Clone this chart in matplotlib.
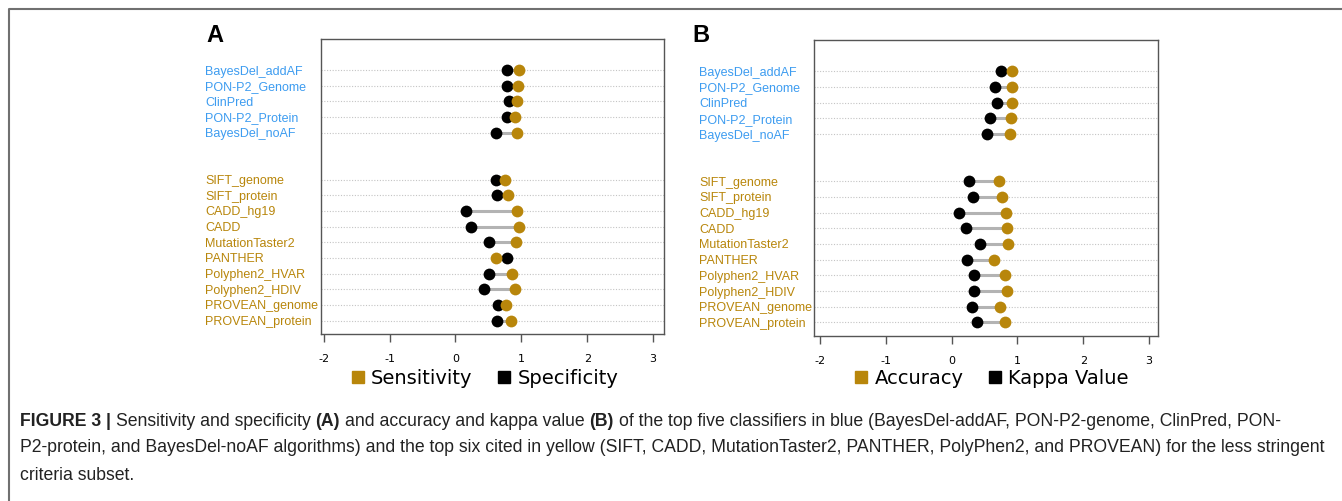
import numpy as np
import matplotlib.pyplot as plt
from matplotlib.lines import Line2D
from matplotlib.transforms import blended_transform_factory

GOLD = "#b8860b"
BLUE = "#3d9cf0"

top_tools = ["BayesDel_addAF", "PON-P2_Genome", "ClinPred", "PON-P2_Protein", "BayesDel_noAF"]
cited_tools = ["SIFT_genome", "SIFT_protein", "CADD_hg19", "CADD", "MutationTaster2", "PANTHER",
               "Polyphen2_HVAR", "Polyphen2_HDIV", "PROVEAN_genome", "PROVEAN_protein"]

# panel A
sensitivity = [0.965, 0.95, 0.94, 0.91, 0.94,
               0.75, 0.80, 0.94, 0.96, 0.925, 0.62, 0.86, 0.905, 0.765, 0.84]
specificity = [0.775, 0.775, 0.815, 0.775, 0.62,
               0.62, 0.625, 0.16, 0.235, 0.51, 0.78, 0.51, 0.43, 0.65, 0.625]
# panel B
accuracy = [0.925, 0.915, 0.91, 0.895, 0.885,
            0.725, 0.765, 0.82, 0.835, 0.86, 0.64, 0.805, 0.835, 0.74, 0.81]
kappa = [0.75, 0.665, 0.685, 0.585, 0.54,
         0.26, 0.325, 0.115, 0.22, 0.435, 0.23, 0.335, 0.34, 0.31, 0.385]

xticks = [-2, -1, 0, 1, 2, 3]

labels = top_tools + cited_tools
colors = [BLUE] * len(top_tools) + [GOLD] * len(cited_tools)
# two empty rows between the groups
rows = list(range(len(top_tools))) + list(range(len(top_tools) + 2, len(top_tools) + 2 + len(cited_tools)))

W, H = 1342, 502
fig = plt.figure(figsize=(W / 100, H / 100), dpi=100)


def px(x, y):
    return x / W, 1 - y / H


def panel(rect, xlim, letter, letter_x, label_x, a, b, name_a, name_b, leg_x):
    ax = fig.add_axes(rect)
    for r in rows:
        ax.axhline(r, color="#c4c4c4", lw=0.8, ls=(0, (1, 1.5)), zorder=1)
    for r, va, vb in zip(rows, a, b):
        ax.plot([va, vb], [r, r], color="#b3b3b3", lw=2.2, zorder=2, solid_capstyle="butt")
    ax.scatter(b, rows, s=72, color="black", zorder=3, linewidths=0)
    ax.scatter(a, rows, s=72, color=GOLD, zorder=4, linewidths=0)
    ax.set_xlim(*xlim)
    ax.set_ylim(16.86, -1.98)
    ax.set_yticks([])
    ax.set_xticks(xticks)
    ax.set_xticklabels([str(t) for t in xticks], fontsize=8)
    ax.tick_params(axis="x", length=6, width=1, color="#555555", pad=8)
    for sp in ax.spines.values():
        sp.set_color("#555555")
        sp.set_linewidth(1)
    tr = blended_transform_factory(fig.transFigure, ax.transData)
    for r, lab, c in zip(rows, labels, colors):
        ax.text(label_x / W, r - 0.06, lab, transform=tr, ha="left", va="center_baseline",
                fontsize=9, color=c, family="Liberation Sans")
    fig.text(*px(letter_x, 36), letter, fontsize=17, fontweight="bold",
             family="Liberation Sans", ha="left", va="center")
    handles = [Line2D([], [], marker="s", ls="", color=GOLD, markersize=8.5),
               Line2D([], [], marker="s", ls="", color="black", markersize=8.5)]
    fig.legend(handles, [name_a, name_b], loc="center", bbox_to_anchor=px(leg_x, 379),
               ncol=2, frameon=False, fontsize=14, handlelength=0.8,
               handletextpad=0.3, columnspacing=1.2, borderaxespad=0)
    return ax


panel([321 / W, 1 - 335 / H, 343 / W, 295 / H], (-2.04, 3.165), "A", 206, 205,
      sensitivity, specificity, "Sensitivity", "Specificity", 484)
panel([814 / W, 1 - 337 / H, 344 / W, 296 / H], (-2.09, 3.135), "B", 692, 699,
      accuracy, kappa, "Accuracy", "Kappa Value", 991)

# outer frame (top and left edges)
fig.add_artist(Line2D([9 / W, 9 / W, 1], [0, 1 - 10 / H, 1 - 10 / H],
                      transform=fig.transFigure, color="#707070", lw=1.5))

# caption with bold parts
caption = [
    [("FIGURE 3 |", "bold"), (" Sensitivity and specificity ", "normal"), ("(A)", "bold"),
     (" and accuracy and kappa value ", "normal"), ("(B)", "bold"),
     (" of the top five classifiers in blue (BayesDel-addAF, PON-P2-genome, ClinPred, PON-", "normal")],
    [("P2-protein, and BayesDel-noAF algorithms) and the top six cited in yellow (SIFT, CADD, "
      "MutationTaster2, PANTHER, PolyPhen2, and PROVEAN) for the less stringent", "normal")],
    [("criteria subset.", "normal")],
]
cap_y = [422, 448, 475]
cap_fs = 12.7
renderer = fig.canvas.get_renderer()


def text_w(s, weight):
    t = fig.text(0, 0, s, fontsize=cap_fs, fontweight=weight, family="Liberation Sans")
    w = t.get_window_extent(renderer).width
    t.remove()
    return w


space_w = text_w("a a", "normal") - text_w("aa", "normal")
for line, y in zip(caption, cap_y):
    x = 20
    for seg, weight in line:
        lead = len(seg) - len(seg.lstrip(" "))
        trail = len(seg) - len(seg.rstrip(" "))
        x += lead * space_w
        core = seg.strip(" ")
        fig.text(x / W, 1 - y / H, core, fontsize=cap_fs, fontweight=weight,
                 family="Liberation Sans", ha="left", va="center", color="#222222")
        x += text_w(core, weight) + trail * space_w

fig.savefig("out.png", dpi=100)
